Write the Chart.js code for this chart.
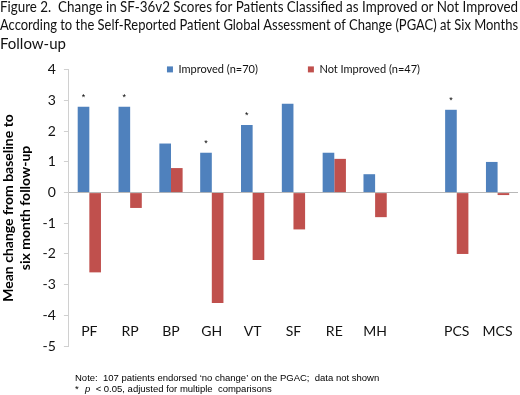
<!DOCTYPE html>
<html lang="en">
<head>
    <meta charset="UTF-8">
    <title>Figure 2 SF-36v2</title>
    <script src="https://cdn.jsdelivr.net/npm/chart.js"></script>
    <style>
        html, body { margin: 0; padding: 0; background: #fff; }
        #wrap { width: 520px; height: 395px; }
    </style>
</head>
<body>
    <div id="wrap"><canvas id="chart" width="520" height="395"></canvas></div>

    <script>
        // scales of the SF-36v2, with an empty slot before the summary scores
        const categories = ['PF', 'RP', 'BP', 'GH', 'VT', 'SF', 'RE', 'MH', '', 'PCS', 'MCS'];
        const improved = [2.8, 2.8, 1.6, 1.3, 2.2, 2.9, 1.3, 0.6, null, 2.7, 1.0];
        const notImproved = [-2.6, -0.5, 0.8, -3.6, -2.2, -1.2, 1.1, -0.8, null, -2.0, -0.08];
        const significant = [true, true, false, true, true, false, false, false, false, true, false];
        const yTicks = [4, 3, 2, 1, 0, -1, -2, -3, -4, -5];

        const titleLines = [
            'Figure 2.  Change in SF-36v2 Scores for Patients Classified as Improved or Not Improved',
            'According to the Self-Reported Patient Global Assessment of Change (PGAC) at Six Months',
            'Follow-up'
        ];
        const noteLines = [
            "Note:  107 patients endorsed \u2018no change\u2019 on the PGAC;  data not shown",
            '*  p < 0.05, adjusted for multiple  comparisons'
        ];

        // legend sits inside the plot, on the level of the top tick
        const legendInside = {
            id: 'legendInside',
            afterLayout(chart) {
                const lg = chart.legend;
                const ca = chart.chartArea;
                const pad = lg.options.labels.padding;
                lg.left = ca.left;
                lg.right = ca.right;
                lg.width = ca.right - ca.left;
                lg.top = ca.top - 6 - pad;
                lg.bottom = lg.top + pad + 16;
                lg.height = pad + 16;
            }
        };

        // asterisks over the improved bars + notes under the chart
        const extras = {
            id: 'extras',
            afterDatasetsDraw(chart) {
                const ctx = chart.ctx;
                const meta = chart.getDatasetMeta(0);
                ctx.save();
                ctx.fillStyle = '#000';
                ctx.font = '9px "Liberation Sans"';
                ctx.textAlign = 'center';
                ctx.textBaseline = 'bottom';
                significant.forEach((s, i) => {
                    if (!s) return;
                    const bar = meta.data[i];
                    ctx.fillText('*', bar.x, bar.y - 5);
                });
                ctx.textAlign = 'left';
                ctx.textBaseline = 'middle';
                ctx.font = '9.5px "Liberation Sans"';
                ctx.fillText(noteLines[0], 75, 378);
                ctx.fillText('*', 75, 389);
                ctx.font = 'italic 9.5px "Liberation Sans"';
                ctx.fillText('p', 85, 389);
                ctx.font = '9.5px "Liberation Sans"';
                ctx.fillText(noteLines[1].slice(4), 93, 389);
                ctx.restore();
            }
        };

        new Chart(document.getElementById('chart'), {
            type: 'bar',
            data: {
                labels: categories,
                datasets: [
                    { label: 'Improved (n=70)', data: improved, backgroundColor: '#4F81BD' },
                    { label: 'Not Improved (n=47)', data: notImproved, backgroundColor: '#C0504D' }
                ]
            },
            options: {
                responsive: false,
                animation: false,
                layout: { padding: { left: 0, right: 2, bottom: 49, top: 0 } },
                datasets: {
                    bar: { categoryPercentage: 0.57, barPercentage: 1.0 }
                },
                plugins: {
                    tooltip: { enabled: false },
                    title: {
                        display: true,
                        text: titleLines,
                        align: 'start',
                        color: '#111',
                        font: { family: 'Lato', size: 15, weight: 'normal', lineHeight: 1.22 },
                        padding: { top: -2, bottom: 16 }
                    },
                    legend: {
                        position: 'top',
                        align: 'center',
                        maxHeight: 1,
                        labels: {
                            boxWidth: 6,
                            boxHeight: 6,
                            padding: 50,
                            color: '#111',
                            font: { family: 'Lato', size: 11 }
                        }
                    }
                },
                scales: {
                    x: {
                        position: { y: -4.2 },
                        grid: { display: false, drawTicks: false },
                        border: { display: false },
                        ticks: {
                            color: '#111',
                            padding: 2,
                            font: { family: 'Lato', size: 14 }
                        }
                    },
                    y: {
                        min: -5,
                        max: 4,
                        afterBuildTicks: axis => { axis.ticks = yTicks.map(v => ({ value: v })); },
                        border: { display: true, color: '#d0d0d0' },
                        grid: {
                            color: c => c.tick && c.tick.value === 0 ? '#b8b8b8' : 'rgba(0,0,0,0)',
                            tickColor: '#d0d0d0',
                            tickLength: 5,
                            drawTicks: true
                        },
                        ticks: {
                            color: '#111',
                            padding: 8,
                            font: { family: 'Lato', size: 14 }
                        },
                        title: {
                            display: true,
                            text: ['Mean change from baseline to', 'six month follow-up'],
                            color: '#000',
                            font: { family: 'Lato', size: 14, weight: 'bold', lineHeight: 1.2 },
                            padding: { top: 0, bottom: 1 }
                        }
                    }
                }
            },
            plugins: [legendInside, extras]
        });
    </script>
</body>
</html>
